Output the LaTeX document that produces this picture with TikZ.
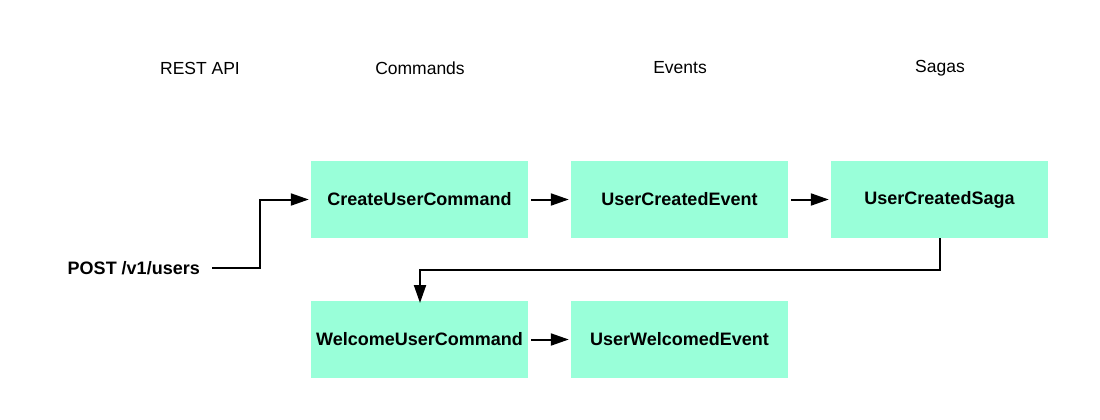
\documentclass[tikz,border=0pt]{standalone}
\usepackage{fontspec}
\setmainfont{Liberation Sans}
\usetikzlibrary{arrows.meta}
\definecolor{boxfill}{RGB}{153,255,217}
\tikzset{
  box/.style={fill=boxfill, draw=none, minimum width=217pt, minimum height=77pt, inner sep=0pt, font=\fontsize{18}{21}\selectfont\bfseries},
  head/.style={font=\fontsize{17.5}{20}\selectfont},
  conn/.style={line width=2pt, -{Triangle[length=18pt,width=12pt]}},
}
\begin{document}
\begin{tikzpicture}[x=1pt,y=-1pt]
\useasboundingbox (0,0) rectangle (1100,420);
\node[head] (h1) at (200,68) {REST API};
\node[head] (h2) at (420,68) {Commands};
\node[head] (h3) at (680,68) {Events};
\node[head] (h4) at (940,68) {Sagas};
\node[box] (cuc) at (419.5,199.5) {CreateUserCommand};
\node[box] (uce) at (679.5,199.5) {UserCreatedEvent};
\node[box] (ucs) at (939.5,199.5) {UserCreatedSaga};
\node[box] (wuc) at (419.5,339.5) {WelcomeUserCommand};
\node[box] (uwe) at (679.5,339.5) {UserWelcomedEvent};
\node[font=\fontsize{18}{21}\selectfont\bfseries, anchor=east, inner sep=0pt] (post) at (200,268) {POST /v1/users};
\coordinate (ps) at (212,268);
\draw[conn] (ps) -- (260,268) |- ([xshift=-2pt]cuc.west);
\draw[conn] ([xshift=3pt]cuc.east) -- ([xshift=-2pt]uce.west);
\draw[conn] ([xshift=3pt]uce.east) -- ([xshift=-2pt]ucs.west);
\draw[conn] ([xshift=0.5pt]ucs.south) -- (940,270) -| ([yshift=-2pt]420,301);
\draw[conn] ([xshift=3pt]wuc.east) -- ([xshift=-2pt]uwe.west);
\end{tikzpicture}
\end{document}
